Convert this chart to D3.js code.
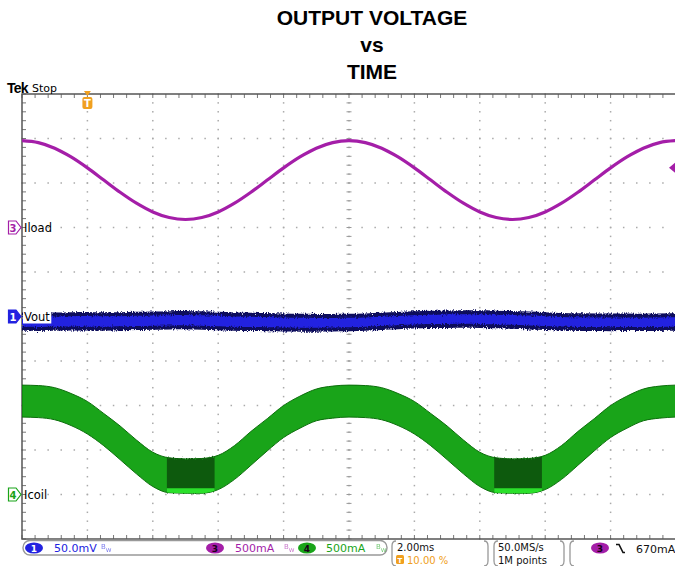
<!DOCTYPE html>
<html>
<head>
<meta charset="utf-8">
<script src="https://cdn.jsdelivr.net/npm/d3@7"></script>
<style>
  body { margin: 0; background: #fff; }
  svg { display: block; }
</style>
</head>
<body>
<svg id="scope" width="675" height="566"></svg>
<script>
// sample times (ms), trigger at 0
const time = [-2,-1.5,-1,-0.5,0,0.5,1,1.5,2,2.5,3,3.5,4,4.5,5,5.5,6,6.5,7,7.5,8,
              8.5,9,9.5,10,10.5,11,11.5,12,12.5,13,13.5,14,14.5,15,15.5,16,16.5,17,17.5,18];

// ch3 Iload (mA)
const iload = [976,954,891,793,670,533,396,273,175,112,90,112,175,273,396,533,670,793,891,954,976,
               954,891,793,670,533,396,273,175,112,90,112,175,273,396,533,670,793,891,954,976];

// ch4 Icoil envelope (mA)
const icoilTop = [1229,1224,1200,1135,1045,910,770,612,475,412,400,405,440,550,708,852,1000,1105,1185,1218,1229,
                  1224,1200,1135,1045,910,770,612,475,412,400,405,440,550,708,852,1000,1105,1185,1218,1229];
const icoilBottom = [870,864,840,775,680,548,392,232,90,20,15,15,55,170,328,490,640,745,828,858,870,
                     864,840,775,680,548,392,232,90,20,15,15,55,170,328,490,640,745,828,858,870];
// dark burst windows near the valleys (ms) and the bright strip top (mA)
const burstStart = [2.43, 12.44];
const burstEnd = [3.89, 13.9];
const stripTop = 70;

// ch1 Vout envelope (mV)
const voutHigh = [4.5,4.6,4.4,4.8,5.0,4.7,4.9,5.2,5.6,6.0,6.3,5.8,5.2,4.6,4.2,3.8,3.4,3.0,2.8,2.9,3.1,
                  3.5,4.2,5.0,5.8,6.4,6.8,7.0,6.9,6.6,6.2,5.6,4.8,4.0,3.6,3.4,3.3,3.5,3.2,3.4,3.6];
const voutLow = [-16.0,-16.2,-16.0,-15.8,-15.6,-15.9,-15.5,-15.2,-14.8,-14.5,-14.2,-14.8,-15.4,-16.0,-16.4,-16.6,-16.8,-17.0,-17.0,-16.8,-16.6,
                 -16.0,-15.2,-14.4,-13.6,-13.0,-12.8,-12.6,-12.8,-13.2,-13.8,-14.5,-15.2,-15.8,-16.2,-16.4,-16.5,-16.3,-16.4,-16.2,-16.0];

// channel setup: volts/div and position (div)
const ch1Scale = 50, ch1Pos = 0;
const ch3Scale = 500, ch3Pos = 2;
const ch4Scale = 500, ch4Pos = -4;
const trigLevel = 670;

const titleLines = ["OUTPUT VOLTAGE", "vs", "TIME"];

const svg = d3.select("#scope");
const C1 = "#2222e0", C3 = "#a41ea8", C4 = "#19a419", ORANGE = "#f0a020";

const x = d3.scaleLinear().domain([-2, 18]).range([22, 676]);
const yDiv = d3.scaleLinear().domain([-5, 5]).range([539, 94]);
const y1 = v => yDiv(ch1Pos + v / ch1Scale);
const y3 = v => yDiv(ch3Pos + v / ch3Scale);
const y4 = v => yDiv(ch4Pos + v / ch4Scale);

const defs = svg.append("defs");
defs.append("clipPath").attr("id", "plot")
  .append("rect").attr("x", 22).attr("y", 94).attr("width", 653).attr("height", 445);
const rough = defs.append("filter").attr("id", "rough")
  .attr("x", "-2%").attr("y", "-40%").attr("width", "104%").attr("height", "180%");
rough.append("feTurbulence").attr("type", "fractalNoise")
  .attr("baseFrequency", "1.1 0.5").attr("numOctaves", 2).attr("seed", 4).attr("result", "n");
rough.append("feDisplacementMap").attr("in", "SourceGraphic").attr("in2", "n")
  .attr("scale", 5).attr("xChannelSelector", "R").attr("yChannelSelector", "G");
const bursts = defs.append("clipPath").attr("id", "burst");
burstStart.forEach((s, i) => {
  bursts.append("rect").attr("x", x(s)).attr("y", 94)
    .attr("width", x(burstEnd[i]) - x(s)).attr("height", 445);
});

// title
svg.selectAll("text.title").data(titleLines).join("text")
  .attr("class", "title")
  .attr("x", 372).attr("y", (d, i) => 25 + i * 27)
  .attr("text-anchor", "middle")
  .style("font", "bold 21px 'Liberation Sans', Arial, sans-serif")
  .text(d => d);

// graticule
const grid = svg.append("g");
const subX = d3.range(-2, 18.001, 0.4);
const subY = d3.range(-5, 5.001, 0.2);
d3.range(1, 10).forEach(k => {
  const gx = x(-2 + 2 * k);
  grid.selectAll(null).data(subY).join("rect")
    .attr("x", gx - 0.75).attr("y", d => yDiv(d) - 0.75)
    .attr("width", 1.5).attr("height", 1.5).attr("fill", "#aaa");
});
d3.range(-4, 5).forEach(j => {
  const gy = yDiv(j);
  grid.selectAll(null).data(subX).join("rect")
    .attr("x", d => x(d) - 0.75).attr("y", gy - 0.75)
    .attr("width", 1.5).attr("height", 1.5).attr("fill", "#aaa");
});
// center cross ticks
grid.selectAll(null).data(subY).join("line")
  .attr("x1", x(8) - 2.5).attr("x2", x(8) + 2.5)
  .attr("y1", d => yDiv(d)).attr("y2", d => yDiv(d))
  .attr("stroke", "#999").attr("stroke-width", 1);
grid.selectAll(null).data(subX).join("line")
  .attr("y1", yDiv(0) - 2.5).attr("y2", yDiv(0) + 2.5)
  .attr("x1", d => x(d)).attr("x2", d => x(d))
  .attr("stroke", "#999").attr("stroke-width", 1);
// border ticks
grid.selectAll(null).data(subX).join("line")
  .attr("x1", d => x(d)).attr("x2", d => x(d)).attr("y1", 94).attr("y2", 98)
  .attr("stroke", "#777");
grid.selectAll(null).data(subX).join("line")
  .attr("x1", d => x(d)).attr("x2", d => x(d)).attr("y1", 535).attr("y2", 539)
  .attr("stroke", "#777");
grid.selectAll(null).data(subY).join("line")
  .attr("x1", 22).attr("x2", 26).attr("y1", d => yDiv(d)).attr("y2", d => yDiv(d))
  .attr("stroke", "#777");
grid.append("path").attr("d", "M675,94H22V539H675")
  .attr("fill", "none").attr("stroke", "#555").attr("stroke-width", 1.5);

const traces = svg.append("g").attr("clip-path", "url(#plot)");
const idx = d3.range(time.length);

// ch4 Icoil band
const coilArea = d3.area().curve(d3.curveMonotoneX)
  .x(i => x(time[i])).y0(i => y4(icoilBottom[i])).y1(i => y4(icoilTop[i]));
traces.append("path").datum(idx).attr("d", coilArea)
  .attr("fill", C4).attr("stroke", "#0c6e0c").attr("stroke-width", 1);
const burstG = traces.append("g").attr("clip-path", "url(#burst)");
burstG.append("path").datum(idx).attr("d", coilArea)
  .attr("fill", "#0b5a0b").attr("filter", "url(#rough)");
burstG.append("path").datum(idx)
  .attr("d", d3.area().curve(d3.curveMonotoneX)
    .x(i => x(time[i])).y0(i => y4(icoilBottom[i])).y1(y4(stripTop)))
  .attr("fill", "#2be02b");

// ch1 Vout band
traces.append("path").datum(idx)
  .attr("d", d3.area().curve(d3.curveMonotoneX)
    .x(i => x(time[i])).y0(i => y1(voutLow[i])).y1(i => y1(voutHigh[i])))
  .attr("fill", "#0c0c5c").attr("filter", "url(#rough)");
traces.append("path").datum(idx)
  .attr("d", d3.area().curve(d3.curveMonotoneX)
    .x(i => x(time[i])).y0(i => y1(voutLow[i]) - 4).y1(i => y1(voutHigh[i]) + 4))
  .attr("fill", C1).attr("filter", "url(#rough)");

// ch3 Iload
traces.append("path").datum(idx)
  .attr("d", d3.line().curve(d3.curveMonotoneX).x(i => x(time[i])).y(i => y3(iload[i])))
  .attr("fill", "none").attr("stroke", C3).attr("stroke-width", 3.2);

// trigger level marker (right edge)
const ty = y3(trigLevel);
svg.append("path").attr("d", `M669,${ty}L675,${ty - 5}V${ty + 5}Z`).attr("fill", C3);

// trigger position marker
const tx = x(0);
svg.append("path").attr("d", `M${tx - 3.5},91H${tx + 3.5}L${tx},96Z`).attr("fill", ORANGE);
svg.append("rect").attr("x", tx - 5).attr("y", 97).attr("width", 10).attr("height", 12)
  .attr("rx", 2).attr("fill", ORANGE);
svg.append("text").attr("x", tx).attr("y", 107).attr("text-anchor", "middle")
  .style("font", "bold 10px 'DejaVu Sans', sans-serif").attr("fill", "#fff").text("T");

// Tek Stop
svg.append("text").attr("x", 7).attr("y", 93)
  .style("font", "bold 14px 'Liberation Sans', sans-serif").style("letter-spacing", "-0.8px").text("Tek");
svg.append("text").attr("x", 32).attr("y", 92)
  .style("font", "11px 'DejaVu Sans', sans-serif").text("Stop");

// channel markers and labels
function marker(num, cy, color, filled) {
  svg.append("path").attr("d", `M8.5,${cy - 6.5}H16L21,${cy}L16,${cy + 6.5}H8.5Z`)
    .attr("fill", filled ? color : "#fff").attr("stroke", color).attr("stroke-width", 1.2);
  svg.append("text").attr("x", 13).attr("y", cy + 4).attr("text-anchor", "middle")
    .style("font", "bold 10px 'DejaVu Sans', sans-serif")
    .attr("fill", filled ? "#fff" : color).text(num);
}
function label(txt, cy, bg) {
  const t = svg.append("text").attr("x", 24).attr("y", cy + 4)
    .style("font", "11.5px 'DejaVu Sans', sans-serif").attr("fill", "#000").text(txt);
  if (bg) {
    const b = t.node().getBBox();
    svg.insert("rect", () => t.node()).attr("x", b.x - 1).attr("y", b.y)
      .attr("width", b.width + 2).attr("height", b.height).attr("fill", "#fff");
  }
}
marker("3", y3(0), C3, false); label("Iload", y3(0), false);
marker("1", y1(0), C1, true); label("Vout", y1(0), true);
marker("4", y4(0), C4, false); label("Icoil", y4(0), false);

// status bar
const sb = svg.append("g").style("font", "11px 'DejaVu Sans', sans-serif");
sb.append("rect").attr("x", 23).attr("y", 540.5).attr("width", 364).attr("height", 14.5)
  .attr("rx", 7).attr("fill", "#fff").attr("stroke", "#999").attr("stroke-width", 1.4);
function chip(cx, num, color, value, vx, sx) {
  sb.append("ellipse").attr("cx", cx).attr("cy", 548).attr("rx", 9).attr("ry", 5.5).attr("fill", color);
  sb.append("text").attr("x", cx).attr("y", 551.5).attr("text-anchor", "middle")
    .style("font", "bold 9px 'DejaVu Sans', sans-serif")
    .attr("fill", num === "1" ? "#fff" : "#1a001a").text(num);
  sb.append("text").attr("x", vx).attr("y", 552).attr("fill", color).text(value);
  const s = sb.append("text").attr("x", sx).attr("y", 551).attr("fill", color).attr("opacity", 0.6)
    .style("font-size", "7px");
  s.append("tspan").attr("dy", -2).text("B");
  s.append("tspan").attr("dy", 3).text("w");
}
chip(34, "1", C1, "50.0mV", 54, 101);
chip(215, "3", C3, "500mA", 235, 284);
chip(307, "4", C4, "500mA", 326, 376);

function bracket(x0, x1) {
  sb.append("path").attr("d", `M${x0 + 4},541Q${x0},541 ${x0},546V561Q${x0},566 ${x0 + 4},566`)
    .attr("fill", "none").attr("stroke", "#999").attr("stroke-width", 1.3);
  sb.append("path").attr("d", `M${x1 - 4},541Q${x1},541 ${x1},546V561Q${x1},566 ${x1 - 4},566`)
    .attr("fill", "none").attr("stroke", "#999").attr("stroke-width", 1.3);
}
bracket(392, 488);
bracket(494, 564);
bracket(570, 680);

const small = "10px 'DejaVu Sans', sans-serif";
sb.append("text").attr("x", 397).attr("y", 551).attr("fill", "#111").style("font", small).text("2.00ms");
sb.append("rect").attr("x", 396).attr("y", 555).attr("width", 8).attr("height", 9).attr("rx", 1.5).attr("fill", ORANGE);
sb.append("text").attr("x", 400).attr("y", 562.5).attr("text-anchor", "middle")
  .style("font", "bold 7px 'DejaVu Sans', sans-serif").attr("fill", "#fff").text("T");
sb.append("text").attr("x", 407).attr("y", 563.5).attr("fill", ORANGE).style("font", small).text("10.00 %");

sb.append("text").attr("x", 498).attr("y", 551).attr("fill", "#111").style("font", small).text("50.0MS/s");
sb.append("text").attr("x", 498).attr("y", 563.5).attr("fill", "#111").style("font", small).text("1M points");

sb.append("ellipse").attr("cx", 600).attr("cy", 548).attr("rx", 9).attr("ry", 5.5).attr("fill", C3);
sb.append("text").attr("x", 600).attr("y", 551.5).attr("text-anchor", "middle")
  .style("font", "bold 9px 'DejaVu Sans', sans-serif").attr("fill", "#1a001a").text("3");
sb.append("path").attr("d", "M616,544.5H619L623,552.5H625")
  .attr("fill", "none").attr("stroke", "#111").attr("stroke-width", 1.6);
sb.append("text").attr("x", 636).attr("y", 553).attr("fill", "#111").text("670mA");
</script>
</body>
</html>
